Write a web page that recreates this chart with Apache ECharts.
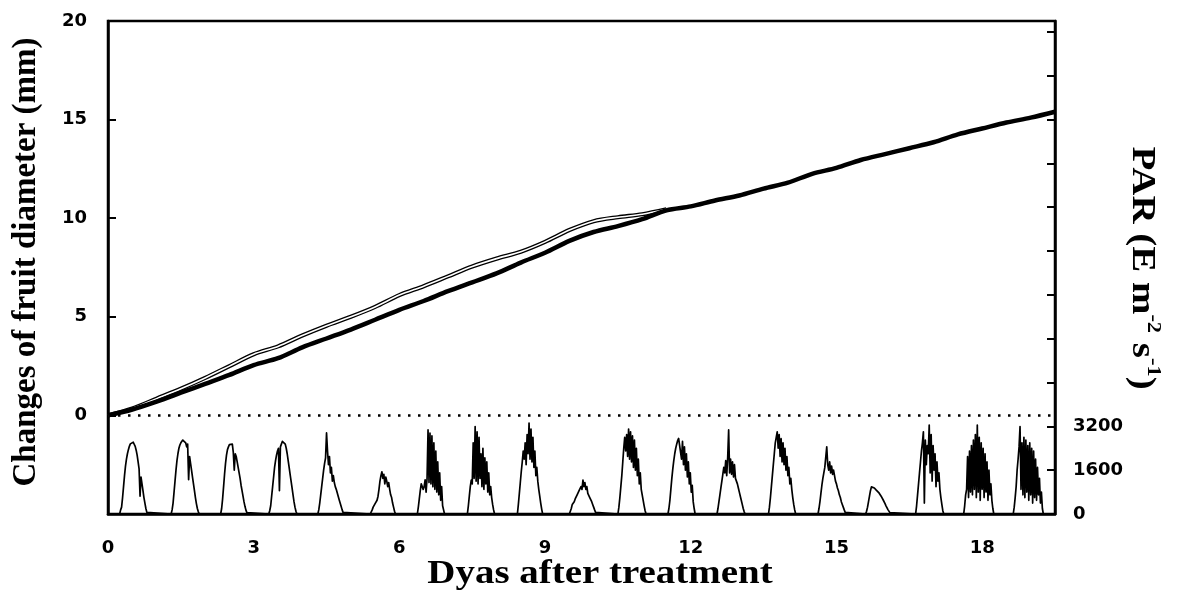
<!DOCTYPE html>
<html>
<head>
<meta charset="utf-8">
<script src="https://cdn.jsdelivr.net/npm/echarts@6/dist/echarts.min.js"></script>
<style>
  html, body { margin: 0; padding: 0; background: #fff; }
  #chart { width: 1186px; height: 600px; }
</style>
</head>
<body>
<div id="chart"></div>
<script>
// Days after treatment at which fruit diameter was logged
const fruitDays = [0, 0.5, 1, 1.5, 2, 2.5, 3, 3.5, 4, 4.5, 5, 5.5, 6, 6.5, 7, 7.5, 8, 8.5, 9, 9.5,
  10, 10.5, 11, 11.5, 12, 12.5, 13, 13.5, 14, 14.5, 15, 15.5, 16, 16.5, 17, 17.5, 18, 18.5, 19, 19.5];
// Fruit diameter change (mm), bold trace
const diameterBold = [0, 0.3, 0.7, 1.15, 1.6, 2.05, 2.55, 2.9, 3.45, 3.9, 4.35, 4.85, 5.35, 5.8, 6.3, 6.75, 7.2, 7.75, 8.25, 8.85,
  9.3, 9.6, 9.95, 10.4, 10.6, 10.9, 11.15, 11.5, 11.8, 12.25, 12.55, 12.95, 13.25, 13.55, 13.85, 14.25, 14.55, 14.85, 15.1, 15.4];
// Fruit diameter change (mm), open trace (merges with the bold one after day 11.5)
const diameterOpen = [0, 0.35, 0.85, 1.35, 1.9, 2.5, 3.1, 3.5, 4.05, 4.55, 5.0, 5.5, 6.1, 6.55, 7.05, 7.55, 7.95, 8.3, 8.8, 9.4,
  9.85, 10.05, 10.2, 10.45];
// Reference level drawn as a dotted line
const zeroLevel = [[0, 0], [19.5, 0]];

// Axis tick labels
const xTickLabels = [0, 3, 6, 9, 12, 15, 18];
const diameterTickLabels = [0, 5, 10, 15, 20];
const parTickLabels = [0, 1600, 3200];

// PAR record: each daylight period starts at parStart[k] (day), sampled every parStep day
const parStep = 0.02;
const parStart = [0.24, 1.30, 2.32, 3.31, 4.32, 5.40, 6.37, 7.40, 8.43, 9.50,
  10.50, 11.53, 12.54, 13.60, 14.62, 15.60, 16.63, 17.62, 18.64];
const parValues = [
  [0,150,250,600,1000,1400,1750,2000,2200,2350,2470,2560,2610,2630,2620,2560,2470,2330,2150,1900,1650,650,1350,1100,850,600,400,200,60,0],
  [0,150,400,800,1200,1600,1950,2200,2400,2520,2600,2660,2700,2720,2740,2600,2450,2550,1250,2100,1850,1600,1350,1100,850,600,380,200,80,0],
  [0,200,550,1000,1450,1850,2150,2350,2450,2530,2570,2600,2550,2250,1600,2200,2100,1900,1700,1500,1300,1050,850,650,450,280,140,50,0],
  [0,120,300,650,1000,1350,1700,1950,2150,2300,2400,850,2450,2550,2650,2700,2650,2550,2400,2200,1950,1700,1450,1200,950,700,450,250,100,0],
  [0,150,400,700,1000,1300,1600,1850,2050,2960,2300,1800,2100,1500,1700,1200,1400,1150,1000,900,780,650,520,400,280,160,60,0],
  [0,60,150,250,300,380,420,500,650,900,1200,1400,1540,1300,1450,1100,1350,1200,1000,1150,900,700,600,400,250,100,0],
  [0,250,550,850,1100,1170,900,1000,1250,800,1300,3070,1150,2950,1100,2850,1000,2600,900,2300,800,1900,700,1500,500,1000,300,150,0],
  [0,300,650,1000,1240,1100,2600,1300,3190,1200,3000,1100,2800,1300,2200,1000,2400,900,2050,1100,1900,800,1500,700,1000,600,350,150,0],
  [0,350,750,1150,1550,1900,2300,2000,2600,1800,2900,2200,3320,2000,3100,1900,2800,1700,2300,1400,1700,1200,900,650,400,180,0],
  [0,100,200,350,300,450,550,500,700,650,850,800,1000,900,1240,1000,1150,900,1000,750,800,600,650,450,350,250,150,60,0],
  [0,250,600,1000,1400,1900,2400,2800,2300,2900,2100,3100,2000,3000,1900,2850,1700,2700,1600,2400,1400,2000,1100,1500,900,700,500,300,120,0],
  [0,200,500,900,1300,1650,1950,2200,2400,2550,2680,2760,2820,2750,2000,2650,1800,2450,1600,2200,1350,1900,1100,1500,800,1050,450,200,0],
  [0,200,450,700,950,1200,1450,1700,1500,1950,1400,2050,3070,1500,2000,1450,1900,1350,1800,1300,1300,1100,950,800,650,500,350,200,80,0],
  [0,250,600,1000,1400,1800,2200,2600,2800,3000,2400,2900,2100,2750,1900,2600,1800,2400,1600,2100,1400,1700,1100,1300,900,600,350,150,0],
  [0,200,450,750,1050,1300,1500,1700,1650,2450,1800,1600,1900,1500,1750,1450,1600,1400,1200,1100,950,850,700,600,450,350,250,150,60,0],
  [0,100,250,450,650,850,990,980,970,950,900,870,820,800,760,700,650,600,520,450,380,300,230,160,100,50,20,0],
  [0,300,700,1100,1500,1900,2300,2600,3000,400,2700,1800,2500,2200,3250,1500,2900,1200,2500,1600,2200,1000,1900,1200,1500,900,600,350,120,0],
  [0,300,700,900,2100,600,2300,800,2500,700,2700,900,2900,600,3250,800,2800,500,2600,900,2400,600,2200,800,1900,500,1600,700,1100,500,200,0],
  [0,250,600,1000,1600,2000,2450,3190,900,2600,700,2800,600,2700,800,2500,500,2600,700,2400,400,2300,600,2000,500,1700,700,1300,400,800,200,0]
];

const boldSeries = fruitDays.map((d, i) => [d, diameterBold[i]]);
const openSeries = diameterOpen.map((v, i) => [fruitDays[i], v]);
const parSeries = [];
parValues.forEach((day, k) => {
  day.forEach((v, i) => {
    parSeries.push([Math.round((parStart[k] + i * parStep) * 1000) / 1000, v]);
  });
});

const black = '#000';
const tickFont = { color: black, fontFamily: 'DejaVu Sans', fontWeight: 'bold', fontSize: 18 };
const titleFont = 'bold 33px "Liberation Serif"';

const chart = echarts.init(document.getElementById('chart'), null, { renderer: 'canvas' });
chart.setOption({
  backgroundColor: '#fff',
  animation: false,
  grid: {
    left: 108, right: 131, top: 21, bottom: 86,
    show: true, borderColor: black, borderWidth: 2.5, backgroundColor: 'transparent'
  },
  xAxis: {
    type: 'value', min: 0, max: 19.5, interval: 3,
    axisLine: { onZero: false, lineStyle: { color: black, width: 2.5 } },
    axisTick: { show: false },
    splitLine: { show: false },
    axisLabel: Object.assign({
      margin: 25,
      formatter: v => (xTickLabels.indexOf(v) >= 0 ? String(v) : '')
    }, tickFont)
  },
  yAxis: [
    {
      type: 'value', min: -5, max: 20, interval: 5, position: 'left',
      axisLine: { show: true, onZero: false, lineStyle: { color: black, width: 2.5 } },
      axisTick: { show: true, inside: true, length: 8, lineStyle: { color: black, width: 2 } },
      splitLine: { show: false },
      axisLabel: Object.assign({
        margin: 21,
        formatter: v => (diameterTickLabels.indexOf(v) >= 0 ? String(v) : '')
      }, tickFont)
    },
    {
      type: 'value', min: 0, max: 18000, interval: 1600, position: 'right',
      axisLine: { show: true, onZero: false, lineStyle: { color: black, width: 2.5 } },
      axisTick: { show: true, inside: true, length: 8, lineStyle: { color: black, width: 2 } },
      splitLine: { show: false },
      axisLabel: Object.assign({
        margin: 18,
        formatter: v => (parTickLabels.indexOf(v) >= 0 ? String(v) : '')
      }, tickFont)
    }
  ],
  series: [
    {
      name: 'zero', type: 'line', yAxisIndex: 0, data: zeroLevel,
      showSymbol: false, symbol: 'none', silent: true, z: 1,
      lineStyle: { color: black, width: 2.5, type: [2.5, 7.5], cap: 'butt' }
    },
    {
      name: 'open-outline', type: 'line', yAxisIndex: 0, data: openSeries,
      showSymbol: false, symbol: 'none', silent: true, z: 3, smooth: 0.3,
      lineStyle: { color: black, width: 4.2 }
    },
    {
      name: 'open-core', type: 'line', yAxisIndex: 0, data: openSeries,
      showSymbol: false, symbol: 'none', silent: true, z: 4, smooth: 0.3,
      lineStyle: { color: '#fff', width: 1.6 }
    },
    {
      name: 'bold', type: 'line', yAxisIndex: 0, data: boldSeries,
      showSymbol: false, symbol: 'none', silent: true, z: 5, smooth: 0.3,
      lineStyle: { color: black, width: 4.5 }
    },
    {
      name: 'PAR', type: 'line', yAxisIndex: 1, data: parSeries,
      showSymbol: false, symbol: 'none', silent: true, z: 2,
      lineStyle: { color: black, width: 1.7, join: 'round' }
    }
  ],
  graphic: [
    {
      type: 'text', x: 26, y: 262, rotation: Math.PI / 2,
      style: {
        text: 'Changes of fruit diameter (mm)',
        font: titleFont, fill: black,
        align: 'center', verticalAlign: 'middle'
      }
    },
    {
      type: 'text', x: 600, y: 574, scaleX: 1.18,
      style: {
        text: 'Dyas after treatment',
        font: titleFont, fill: black,
        align: 'center', verticalAlign: 'middle'
      }
    },
    {
      type: 'text', x: 1142, y: 268, rotation: -Math.PI / 2, scaleX: 1.18,
      style: {
        text: '{m|PAR (E m}{s|-2}{m| s}{s|-1}{m|)}',
        align: 'center', verticalAlign: 'middle',
        rich: {
          m: { font: titleFont, fill: black, lineHeight: 40 },
          s: { font: 'bold 19px "Liberation Serif"', fill: black, lineHeight: 22, verticalAlign: 'top' }
        }
      }
    }
  ]
});
</script>
</body>
</html>
